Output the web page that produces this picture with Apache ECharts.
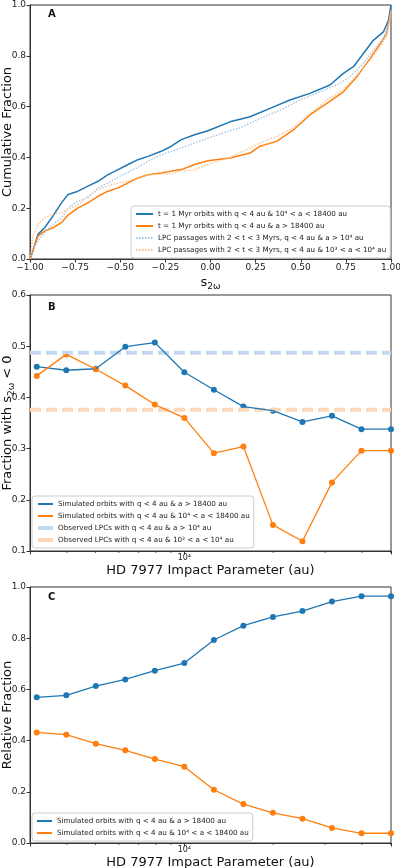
<!DOCTYPE html>
<html>
<head>
<meta charset="utf-8">
<script src="https://cdn.jsdelivr.net/npm/echarts@6.0.0/dist/echarts.min.js"></script>
<style>
html, body { margin: 0; padding: 0; background: #fff; }
#main { width: 400px; height: 868px; }
</style>
</head>
<body>
<div id="main"></div>
<script>
const chartDom = document.getElementById('main');
const myChart = echarts.init(chartDom);

// ---- Panel A: cumulative fraction of s_2w ----
const s2wT1Inner = [-1, -0.985, -0.956, -0.919, -0.873, -0.826, -0.789, -0.734, -0.679, -0.623, -0.568, -0.512, -0.457, -0.402, -0.346, -0.273, -0.217, -0.162, -0.088, -0.014, 0.108, 0.219, 0.330, 0.440, 0.551, 0.662, 0.736, 0.792, 0.847, 0.902, 0.958, 0.986, 1.0];
const cumT1Inner = [0, 0.03, 0.097, 0.123, 0.169, 0.221, 0.254, 0.267, 0.287, 0.306, 0.332, 0.352, 0.372, 0.391, 0.404, 0.424, 0.444, 0.470, 0.489, 0.505, 0.540, 0.560, 0.593, 0.626, 0.652, 0.685, 0.731, 0.757, 0.809, 0.861, 0.894, 0.940, 1.0];

const s2wT1Outer = [-1, -0.985, -0.956, -0.919, -0.873, -0.826, -0.789, -0.734, -0.679, -0.623, -0.568, -0.512, -0.457, -0.402, -0.346, -0.273, -0.217, -0.162, -0.088, -0.014, 0.108, 0.219, 0.274, 0.367, 0.459, 0.551, 0.644, 0.736, 0.810, 0.884, 0.939, 0.976, 1.0];
const cumT1Outer = [0, 0.031, 0.090, 0.110, 0.123, 0.143, 0.173, 0.201, 0.221, 0.247, 0.267, 0.280, 0.300, 0.319, 0.332, 0.339, 0.346, 0.352, 0.372, 0.387, 0.398, 0.417, 0.444, 0.463, 0.508, 0.567, 0.613, 0.658, 0.717, 0.789, 0.846, 0.888, 0.98];

const s2wLpcOuter = [-1, -0.985, -0.956, -0.919, -0.873, -0.826, -0.789, -0.734, -0.679, -0.623, -0.568, -0.512, -0.457, -0.402, -0.346, -0.273, -0.217, -0.162, -0.088, -0.014, 0.108, 0.163, 0.274, 0.385, 0.496, 0.607, 0.699, 0.773, 0.847, 0.902, 0.958, 0.994, 1.0];
const cumLpcOuter = [0, 0.038, 0.071, 0.103, 0.136, 0.162, 0.201, 0.228, 0.241, 0.280, 0.300, 0.322, 0.342, 0.361, 0.385, 0.411, 0.424, 0.437, 0.457, 0.476, 0.505, 0.516, 0.553, 0.586, 0.626, 0.658, 0.685, 0.717, 0.770, 0.822, 0.868, 0.940, 0.98];

const s2wLpcInner = [-1, -0.985, -0.956, -0.919, -0.873, -0.826, -0.789, -0.734, -0.679, -0.623, -0.568, -0.512, -0.457, -0.402, -0.346, -0.273, -0.217, -0.162, -0.088, -0.014, 0.108, 0.219, 0.274, 0.367, 0.459, 0.551, 0.644, 0.736, 0.810, 0.884, 0.939, 0.976, 1.0];
const cumLpcInner = [0, 0.084, 0.136, 0.162, 0.178, 0.182, 0.195, 0.214, 0.247, 0.273, 0.287, 0.300, 0.306, 0.319, 0.332, 0.335, 0.336, 0.346, 0.352, 0.372, 0.400, 0.437, 0.457, 0.483, 0.516, 0.573, 0.626, 0.666, 0.724, 0.783, 0.835, 0.874, 0.97];

// ---- Panels B and C: HD 7977 impact parameter (au) ----
const impact = [3162, 3981, 5012, 6310, 7943, 10000, 12589, 15849, 19953, 25119, 31623, 39811, 50119];
const impactMin = 3000;
const impactMax = 50119;
const minorTicks = [4000, 5000, 6000, 7000, 8000, 9000, 20000, 30000, 40000, 50000];

// fraction with s_2w < 0
const fracOuter = [0.460, 0.453, 0.456, 0.499, 0.507, 0.449, 0.415, 0.382, 0.374, 0.352, 0.364, 0.338, 0.338];
const fracInner = [0.442, 0.484, 0.455, 0.423, 0.386, 0.360, 0.291, 0.304, 0.151, 0.119, 0.234, 0.296, 0.296];
const obsOuter = 0.487;
const obsInner = 0.376;

// relative fraction
const relOuter = [0.569, 0.577, 0.613, 0.639, 0.673, 0.703, 0.793, 0.849, 0.883, 0.906, 0.943, 0.964, 0.964];
const relInner = [0.432, 0.423, 0.388, 0.362, 0.328, 0.298, 0.208, 0.152, 0.118, 0.095, 0.059, 0.038, 0.038];

const nameT1Inner = 't = 1 Myr orbits with q < 4 au & 10⁴ < a < 18400 au';
const nameT1Outer = 't = 1 Myr orbits with q < 4 au & a > 18400 au';
const nameLpcOuter = 'LPC passages with 2 < t < 3 Myrs, q < 4 au & a > 10⁴ au';
const nameLpcInner = 'LPC passages with 2 < t < 3 Myrs, q < 4 au & 10³ < a < 10⁴ au';
const nameSimOuter = 'Simulated orbits with q < 4 au & a > 18400 au';
const nameSimInner = 'Simulated orbits with q < 4 au & 10⁴ < a < 18400 au';
const nameObsOuter = 'Observed LPCs with q < 4 au & a > 10⁴ au';
const nameObsInner = 'Observed LPCs with q < 4 au & 10³ < a < 10⁴ au';

const blue = '#1f77b4';
const orange = '#ff7f0e';
const axisCol = '#333';
const font = 'DejaVu Sans';

const zip = (xs, ys) => xs.map((x, i) => [x, ys[i]]);

const tickLabel = { fontSize: 9, color: '#222', fontFamily: font };
const nameStyle = {
    fontSize: 13, color: '#111', fontFamily: font, lineHeight: 16,
    rich: { sub: { fontSize: 9, lineHeight: 9, verticalAlign: 'bottom', fontFamily: font, color: '#111' } }
};

function baseAxis(gi) {
    return {
        gridIndex: gi,
        axisLine: { show: true, onZero: false, lineStyle: { color: axisCol } },
        axisTick: { show: true, length: 3.5, lineStyle: { color: axisCol } },
        splitLine: { show: false },
        nameLocation: 'middle',
        nameMoveOverlap: false,
        nameTextStyle: nameStyle
    };
}

function logAxis(gi) {
    return Object.assign(baseAxis(gi), {
        type: 'log', logBase: 10, min: impactMin, max: impactMax,
        axisLabel: Object.assign({}, tickLabel, {
            margin: 3, fontSize: 8,
            formatter: v => Math.abs(v - 10000) < 1 ? '10⁴' : ''
        }),
        name: 'HD 7977 Impact Parameter (au)', nameGap: 12
    });
}

function yAxis(gi, min, max, step, name) {
    return Object.assign(baseAxis(gi), {
        type: 'value', min: min, max: max, interval: step,
        axisLabel: Object.assign({}, tickLabel, { margin: 4, formatter: v => v.toFixed(1) }),
        name: name, nameGap: 14
    });
}

function minorTickSeries(gi, yMin) {
    return {
        type: 'custom', xAxisIndex: gi, yAxisIndex: gi, silent: true, clip: false,
        data: minorTicks.map(v => [v, yMin]),
        renderItem: (params, api) => {
            const p = api.coord([api.value(0), api.value(1)]);
            return { type: 'line', shape: { x1: p[0], y1: p[1], x2: p[0], y2: p[1] + 2 }, style: { stroke: axisCol, lineWidth: 0.8 } };
        }
    };
}

function lineSeries(gi, name, data, color, width, type) {
    return {
        name: name, type: 'line', xAxisIndex: gi, yAxisIndex: gi, data: data,
        symbol: 'none', animation: false,
        lineStyle: { color: color, width: width, type: type || 'solid' },
        itemStyle: { color: color }
    };
}

function dotSeries(gi, data, color) {
    return {
        type: 'scatter', xAxisIndex: gi, yAxisIndex: gi, data: data,
        symbolSize: 6, itemStyle: { color: color, opacity: 1 }, animation: false
    };
}

const legendBase = {
    orient: 'vertical', selectedMode: false,
    itemStyle: { opacity: 0 },
    backgroundColor: 'rgba(255,255,255,0.85)', borderColor: '#ccc', borderWidth: 1, borderRadius: 3,
    textStyle: { fontSize: 7.2, color: '#222', fontFamily: font, lineHeight: 10 }
};

const option = {
    backgroundColor: '#fff',
    animation: false,
    title: [
        { text: 'A', left: 48, top: 9, padding: 0, textStyle: { fontSize: 10, fontWeight: 'bold', color: '#111', fontFamily: font } },
        { text: 'B', left: 48, top: 302, padding: 0, textStyle: { fontSize: 10, fontWeight: 'bold', color: '#111', fontFamily: font } },
        { text: 'C', left: 48, top: 592, padding: 0, textStyle: { fontSize: 10, fontWeight: 'bold', color: '#111', fontFamily: font } }
    ],
    grid: [
        { left: 30, top: 5, width: 361, height: 254, outerBoundsMode: 'none', containLabel: false, show: true, borderColor: axisCol, borderWidth: 1 },
        { left: 30, top: 295, width: 361, height: 256, outerBoundsMode: 'none', containLabel: false, show: true, borderColor: axisCol, borderWidth: 1 },
        { left: 30, top: 587, width: 361, height: 256, outerBoundsMode: 'none', containLabel: false, show: true, borderColor: axisCol, borderWidth: 1 }
    ],
    xAxis: [
        Object.assign(baseAxis(0), {
            type: 'value', min: -1, max: 1, interval: 0.25,
            axisLabel: Object.assign({}, tickLabel, { margin: 4, formatter: v => (v < 0 ? '−' : '') + Math.abs(v).toFixed(2) }),
            name: 's{sub|2ω}', nameGap: 16
        }),
        logAxis(1),
        logAxis(2)
    ],
    yAxis: [
        yAxis(0, 0, 1, 0.2, 'Cumulative Fraction'),
        yAxis(1, 0.1, 0.6, 0.1, 'Fraction with s{sub|2ω} < 0'),
        yAxis(2, 0, 1, 0.2, 'Relative Fraction')
    ],
    legend: [
        Object.assign({}, legendBase, {
            left: 131, top: 206, itemWidth: 17, itemHeight: 8, itemGap: 2, padding: [3, 4, 3, 4],
            data: [nameT1Inner, nameT1Outer, nameLpcOuter, nameLpcInner]
        }),
        Object.assign({}, legendBase, {
            left: 32, top: 496, itemWidth: 15, itemHeight: 8, itemGap: 2, padding: [3, 4, 3, 4],
            data: [nameSimOuter, nameSimInner,
                { name: nameObsOuter, lineStyle: { width: 4, type: 'solid' } },
                { name: nameObsInner, lineStyle: { width: 4, type: 'solid' } }]
        }),
        Object.assign({}, legendBase, {
            left: 32, top: 813, itemWidth: 15, itemHeight: 8, itemGap: 2, padding: [3, 4, 3, 4],
            data: [nameSimOuter, nameSimInner]
        })
    ],
    series: [
        lineSeries(0, nameT1Inner, zip(s2wT1Inner, cumT1Inner), blue, 1.5),
        lineSeries(0, nameT1Outer, zip(s2wT1Outer, cumT1Outer), orange, 1.5),
        lineSeries(0, nameLpcOuter, zip(s2wLpcOuter, cumLpcOuter), '#9fc3e4', 1.3, [1.5, 1.5]),
        lineSeries(0, nameLpcInner, zip(s2wLpcInner, cumLpcInner), '#ffbf88', 1.3, [1.5, 1.5]),

        lineSeries(1, nameObsOuter, [[impactMin, obsOuter], [impactMax, obsOuter]], '#c3d9ee', 4, [11, 5]),
        lineSeries(1, nameObsInner, [[impactMin, obsInner], [impactMax, obsInner]], '#fed8b6', 4, [11, 5]),
        lineSeries(1, nameSimOuter, zip(impact, fracOuter), blue, 1.3),
        lineSeries(1, nameSimInner, zip(impact, fracInner), orange, 1.3),
        dotSeries(1, zip(impact, fracOuter), blue),
        dotSeries(1, zip(impact, fracInner), orange),
        minorTickSeries(1, 0.1),

        lineSeries(2, nameSimOuter, zip(impact, relOuter), blue, 1.3),
        lineSeries(2, nameSimInner, zip(impact, relInner), orange, 1.3),
        dotSeries(2, zip(impact, relOuter), blue),
        dotSeries(2, zip(impact, relInner), orange),
        minorTickSeries(2, 0)
    ]
};

myChart.setOption(option);
</script>
</body>
</html>
